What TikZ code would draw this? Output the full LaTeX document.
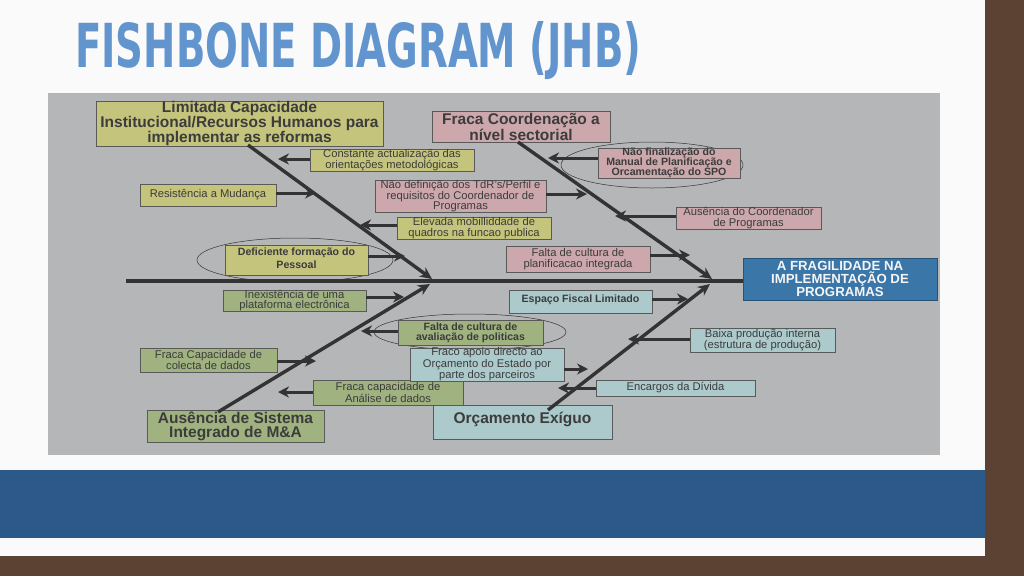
\documentclass[tikz,border=0pt]{standalone}
\usepackage{fontspec}
\setmainfont{Liberation Sans}
\newfontfamily\titlefont{DejaVu Sans Condensed}
\usepackage{graphicx}
\usetikzlibrary{arrows.meta}

\definecolor{panelgray}{RGB}{180,182,184}
\definecolor{boxyellow}{RGB}{196,196,124}
\definecolor{boxpink}{RGB}{204,168,172}
\definecolor{boxgreen}{RGB}{160,178,128}
\definecolor{boxteal}{RGB}{172,202,204}
\definecolor{headblue}{RGB}{58,118,168}
\definecolor{titleblue}{RGB}{98,148,206}
\definecolor{brick}{RGB}{92,66,50}
\definecolor{bandblue}{RGB}{44,88,138}
\definecolor{inktext}{RGB}{60,60,60}

\tikzset{
  cause/.style={draw=gray!70!black, line width=0.6pt, inner sep=0pt, align=center, text=inktext, font=\fontsize{11.2}{10.2}\selectfont},
  boldcause/.style={cause, font=\bfseries\fontsize{10.6}{10.2}\selectfont},
  headcause/.style={cause, font=\bfseries\fontsize{15.5}{14}\selectfont},
  bone/.style={line width=3.4pt, draw=black!80, -{Stealth[length=12pt,width=11pt]}},
  twig/.style={line width=3pt, draw=black!80, -{Stealth[length=11pt,width=11pt]}},
  ring/.style={draw=gray!40!black, line width=0.5pt}
}

\begin{document}
\begin{tikzpicture}[x=1pt,y=-1pt]
\useasboundingbox (0,0) rectangle (1024,576);

% slide and backdrop
\fill[brick] (0,0) rectangle (1024,576);
\fill[white!96!gray] (0,0) rectangle (985,556);
\fill[bandblue] (0,470) rectangle (985,538);
\fill[panelgray] (48,93) rectangle (940,455);

% title
\node[anchor=south west, inner sep=0pt, text=titleblue] (title) at (75,80)
  {\resizebox{566pt}{46pt}{\titlefont\bfseries FISHBONE DIAGRAM (JHB)}};

% head and spine
\node[draw=headblue!70!black, fill=headblue, text=white!92!gray, align=center,
  font=\bfseries\fontsize{13.2}{11.5}\selectfont, minimum width=194pt, minimum height=37pt]
  (effect) at (840,279) {A FRAGILIDADE NA\\IMPLEMENTAÇÃO DE\\PROGRAMAS};
\coordinate (tail) at (126,281);
\draw[line width=3.4pt, draw=black!80] (tail) -- (effect.west |- tail);
\coordinate (hitA) at (432,279);
\coordinate (hitB) at (712,279);
\coordinate (hitC) at (430,284);
\coordinate (hitD) at (710,284);

% main causes
\node[headcause, fill=boxyellow, minimum width=287pt, minimum height=43pt] (capac) at (239.5,123.5)
  {Limitada Capacidade\\Institucional/Recursos Humanos para\\implementar as reformas};
\node[headcause, fill=boxpink, minimum width=178pt, minimum height=31pt] (coord) at (521,127)
  {Fraca Coordenação a\\nível sectorial};
\node[headcause, fill=boxgreen, minimum width=177pt, minimum height=32pt] (sistema) at (235.5,426)
  {Ausência de Sistema\\Integrado de M\&A};
\node[headcause, fill=boxteal, minimum width=179pt, minimum height=34pt] (orcam) at (522.5,422)
  {\raisebox{8pt}{Orçamento Exíguo}};

\coordinate (capacroot) at (248,145);
\coordinate (coordroot) at (518,142);
\coordinate (sistroot) at (218,412);
\coordinate (orcroot) at (548,410);
\draw[bone] (capacroot) -- (hitA);
\draw[bone] (coordroot) -- (hitB);
\draw[bone] (sistroot) -- (hitC);
\draw[bone] (orcroot) -- (hitD);

% ellipses
\draw[ring] (295,260) ellipse (98pt and 22pt);
\draw[ring] (652,165) ellipse (91pt and 23pt);
\draw[ring] (470,332) ellipse (96pt and 18pt);

% sub causes, upper left
\node[cause, fill=boxyellow, minimum width=164pt, minimum height=22pt] (c1) at (392,160)
  {Constante actualização das\\orientações metodológicas};
\node[cause, fill=boxyellow, minimum width=136pt, minimum height=22pt] (c2) at (208,195)
  {\raisebox{4pt}{Resistência a Mudança}};
\node[cause, fill=boxyellow, minimum width=154pt, minimum height=22pt] (c3) at (474,228)
  {Elevada mobilliddade de\\quadros na funcao publica};
\node[boldcause, fill=boxyellow, minimum width=143pt, minimum height=30pt] (c4) at (296.5,260)
  {\raisebox{4pt}{\shortstack{Deficiente formação do\\Pessoal}}};
\coordinate (c1end) at (278,159);
\coordinate (c2end) at (316,193);
\coordinate (c3end) at (360,225);
\coordinate (c4end) at (405,256);
\draw[twig] (c1.west |- c1end) -- (c1end);
\draw[twig] (c2.east |- c2end) -- (c2end);
\draw[twig] (c3.west |- c3end) -- (c3end);
\draw[twig] (c4.east |- c4end) -- (c4end);

% sub causes, upper right
\node[cause, fill=boxpink, minimum width=171pt, minimum height=28pt] (p1) at (460.5,196)
  {Não definição dos TdR's/Perfil e\\requisitos do Coordenador de\\Programas};
\node[cause, fill=boxpink, minimum width=144pt, minimum height=26pt] (p2) at (578,259)
  {Falta de cultura de\\planificacao integrada};
\node[boldcause, fill=boxpink, minimum width=142pt, minimum height=30pt] (p3) at (669,163)
  {Não finalização do\\Manual de Planificação e\\Orcamentação do SPO};
\node[cause, fill=boxpink, minimum width=145pt, minimum height=22pt] (p4) at (748.5,218)
  {Ausência do Coordenador\\de Programas};
\coordinate (p1end) at (587,194);
\coordinate (p2end) at (690,255);
\coordinate (p3end) at (548,158);
\coordinate (p4end) at (615,216);
\draw[twig] (p1.east |- p1end) -- (p1end);
\draw[twig] (p2.east |- p2end) -- (p2end);
\draw[twig] (p3.west |- p3end) -- (p3end);
\draw[twig] (p4.west |- p4end) -- (p4end);

% sub causes, lower left
\node[cause, fill=boxgreen, minimum width=143pt, minimum height=21pt] (g1) at (294.5,300.5)
  {Inexistência de uma\\plataforma electrônica};
\node[boldcause, fill=boxgreen, minimum width=145pt, minimum height=25pt] (g2) at (470.5,332.5)
  {Falta de cultura de\\avaliação de politicas};
\node[cause, fill=boxgreen, minimum width=137pt, minimum height=24pt] (g3) at (208.5,360)
  {Fraca Capacidade de\\colecta de dados};
\node[cause, fill=boxgreen, minimum width=150pt, minimum height=25pt] (g4) at (388,392.5)
  {Fraca capacidade de\\Análise de dados};
\coordinate (g1end) at (404,297);
\coordinate (g2end) at (361,331);
\coordinate (g3end) at (316,361);
\coordinate (g4end) at (278,392);
\draw[twig] (g1.east |- g1end) -- (g1end);
\draw[twig] (g2.west |- g2end) -- (g2end);
\draw[twig] (g3.east |- g3end) -- (g3end);
\draw[twig] (g4.west |- g4end) -- (g4end);

% sub causes, lower right
\node[boldcause, fill=boxteal, minimum width=143pt, minimum height=23pt] (t1) at (580.5,301.5)
  {\raisebox{5pt}{Espaço Fiscal Limitado}};
\node[cause, fill=boxteal, minimum width=145pt, minimum height=24pt] (t2) at (762.5,340)
  {Baixa produção interna\\(estrutura de produção)};
\node[cause, fill=boxteal, minimum width=154pt, minimum height=29pt] (t3) at (487,364.5)
  {Fraco apoio directo ao\\Orçamento do Estado por\\parte dos parceiros};
\node[cause, fill=boxteal, minimum width=159pt, minimum height=16pt] (t4) at (675.5,388)
  {Encargos da Dívida};
\coordinate (t1end) at (688,299);
\coordinate (t2end) at (628,339);
\coordinate (t3end) at (588,369);
\coordinate (t4end) at (558,388);
\draw[twig] (t1.east |- t1end) -- (t1end);
\draw[twig] (t2.west |- t2end) -- (t2end);
\draw[twig] (t3.east |- t3end) -- (t3end);
\draw[twig] (t4.west |- t4end) -- (t4end);
\end{tikzpicture}
\end{document}
